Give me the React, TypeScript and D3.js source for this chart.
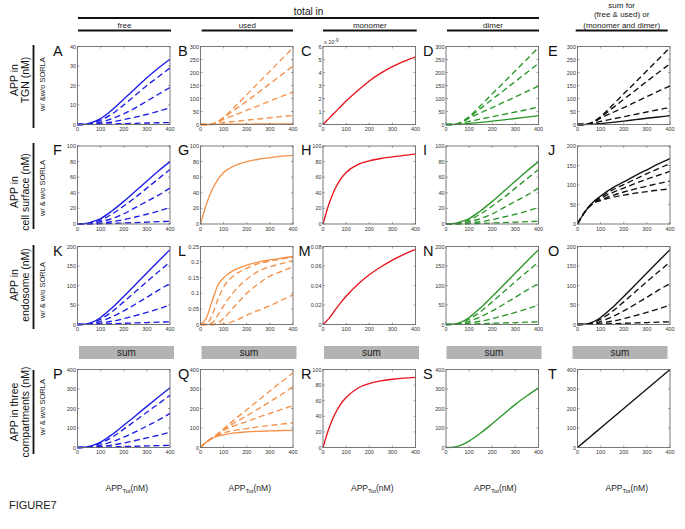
import React from 'react';
import * as d3 from 'd3';

// ---------- DATA ----------
const xGrid = [0, 25, 50, 75, 100, 150, 200, 250, 300, 350, 400];
const xTicks = [0, 100, 200, 300, 400];

// Row 1: TGN
const aSolid = [0, 0.1, 0.6, 1.6, 3, 7.5, 13, 18.5, 24, 29, 33.5];
const aD1 = [0, 0.05, 0.4, 1.1, 2.2, 5.5, 10, 15, 20, 24.5, 29];
const aD2 = [0, 0.03, 0.25, 0.6, 1.2, 3, 5.5, 8.5, 12, 15.5, 19];
const aD3 = [0, 0.02, 0.1, 0.3, 0.5, 1.3, 2.5, 3.8, 5.2, 6.8, 8.5];
const aD4 = [0, 0.01, 0.05, 0.1, 0.15, 0.3, 0.45, 0.6, 0.75, 0.9, 1.0];

const bSolid = [0, 0, 0, 0.5, 1, 1, 1.5, 2, 2, 2.5, 2.5];
const bD1 = [0, 0, 2, 12, 28, 70, 115, 160, 205, 250, 295];
const bD2 = [0, 0, 2, 11, 26, 58, 90, 123, 157, 191, 225];
const bD3 = [0, 0, 1.5, 9, 20, 37, 55, 72, 90, 108, 125];
const bD4 = [0, 0, 1, 4, 8, 12, 17, 21, 26, 30, 35];

const cSolid = [0, 0.45, 0.9, 1.35, 1.8, 2.6, 3.35, 3.95, 4.45, 4.85, 5.2]; // x 10^-9

const dSolid = [0, 0, 0.5, 1.5, 4, 8, 13, 18, 23, 28.5, 34];
const dD1 = [0, 0, 3, 14, 30, 73, 118, 162, 207, 251, 296];
const dD2 = [0, 0, 3, 13, 28, 62, 97, 131, 166, 200, 235];
const dD3 = [0, 0, 2.5, 11, 24, 45, 65, 86, 106, 127, 148];
const dD4 = [0, 0, 2, 6, 12, 21, 30, 39, 48, 57, 67];

const eSolid = [0, 0, 0.5, 1.5, 3.5, 8, 13, 18.5, 24, 29, 34];
const eD1 = [0, 0, 3, 14, 30, 73, 118, 162, 207, 251, 296];
const eD2 = [0, 0, 3, 13, 28, 62, 97, 131, 166, 200, 234];
const eD3 = [0, 0, 2.5, 11, 24, 45, 65, 86, 107, 128, 148];
const eD4 = [0, 0, 2, 6, 12, 21, 30, 39, 48, 57, 66];

// Row 2: cell surface
const fSolid = [0, 0.3, 1.5, 4, 7, 17, 29, 42, 55, 68, 80];
const fD1 = [0, 0.2, 1, 3, 5, 13, 23, 34, 46, 58, 70];
const fD2 = [0, 0.1, 0.6, 1.6, 3, 7, 13, 21, 29, 37, 46];
const fD3 = [0, 0.05, 0.3, 0.6, 1, 3, 5.5, 9, 12.5, 16.5, 21];
const fD4 = [0, 0.02, 0.1, 0.2, 0.4, 0.8, 1.3, 1.8, 2.4, 3, 3.5];

const gSolid = [0, 25, 44, 57, 66, 75, 80, 83, 85, 87, 88];
const hSolid = [0, 25, 44, 57, 66, 76, 81, 84, 86, 88, 89.5];

const jSolid = [0, 25, 45, 60, 72, 92, 108, 124, 139, 154, 168];
const jD1 = [0, 25, 45, 59, 69, 87, 101, 115, 129, 142, 155];
const jD2 = [0, 25, 45, 58, 66, 80, 92, 104, 115, 125, 135];
const jD3 = [0, 25, 44, 56, 62, 73, 82, 90, 97, 104, 110];
const jD4 = [0, 25, 44, 55, 60, 68, 74, 79, 83, 87, 90];

// Row 3: endosome
const kSolid = [0, 0.5, 3, 9, 18, 43, 72, 102, 132, 162, 192];
const kD1 = [0, 0.4, 2, 7, 14, 33, 58, 84, 110, 135, 160];
const kD2 = [0, 0.3, 1.5, 4, 8, 20, 35, 52, 70, 88, 105];
const kD3 = [0, 0.2, 0.8, 1.8, 3.5, 8.5, 15, 23, 31, 40, 50];
const kD4 = [0, 0.1, 0.3, 0.6, 1, 2, 3, 4, 5, 6, 7];

const lSolid = [0, 0.02, 0.075, 0.125, 0.15, 0.176, 0.19, 0.2, 0.207, 0.213, 0.218];
const lD1 = [0, 0, 0.03, 0.08, 0.12, 0.16, 0.18, 0.195, 0.203, 0.21, 0.215];
const lD2 = [0, 0, 0.005, 0.03, 0.06, 0.11, 0.145, 0.17, 0.185, 0.195, 0.205];
const lD3 = [0, 0, 0, 0.005, 0.02, 0.06, 0.1, 0.13, 0.155, 0.17, 0.185];
const lD4 = [0, 0, 0, 0, 0.002, 0.012, 0.03, 0.045, 0.06, 0.078, 0.095];

const mSolid = [0, 0.006, 0.014, 0.022, 0.029, 0.041, 0.051, 0.059, 0.066, 0.072, 0.077];

// Row 4: three compartments
const pSolid = [0, 1, 5, 15, 28, 67, 114, 162, 211, 259, 306];
const pD1 = [0, 0.6, 3.4, 11, 22, 53, 94, 137, 181, 224, 268];
const pD2 = [0, 0.4, 2.3, 6, 12, 30, 53, 80, 110, 140, 175];
const pD3 = [0, 0.3, 1.2, 2.7, 5, 13, 23, 36, 49, 63, 78];
const pD4 = [0, 0.1, 0.4, 0.9, 1.5, 3, 5, 6.5, 8, 9.5, 11];

const qSolid = [0, 28, 47, 58, 65, 75, 80, 83, 85, 87, 88];
const qD1 = [0, 28, 48, 72, 96, 146, 194, 242, 290, 337, 383];
const qD2 = [0, 28, 48, 70, 92, 128, 163, 198, 235, 272, 312];
const qD3 = [0, 28, 48, 68, 88, 113, 133, 155, 175, 195, 215];
const qD4 = [0, 28, 47, 62, 75, 88, 97, 106, 113, 120, 127];

const rSolid = [0, 24, 42, 55, 64, 76, 82, 85.5, 87.5, 89, 90];
const sSolid = [0, 1, 6, 17, 33, 74, 122, 172, 221, 265, 306];
const tSolid = [0, 25, 50, 75, 100, 150, 200, 250, 300, 350, 400];

// Tick sets
const ticks40 = [0, 10, 20, 30, 40];
const ticks300 = [0, 50, 100, 150, 200, 250, 300];
const ticks6 = [0, 1, 2, 3, 4, 5, 6];
const ticks100 = [0, 20, 40, 60, 80, 100];
const ticks200 = [0, 50, 100, 150, 200];
const ticks025 = [0, 0.05, 0.1, 0.15, 0.2, 0.25];
const ticks008 = [0, 0.02, 0.04, 0.06, 0.08];
const ticks400 = [0, 100, 200, 300, 400];

// Labels
const panelLetters = ['A', 'B', 'C', 'D', 'E', 'F', 'G', 'H', 'I', 'J', 'K', 'L', 'M', 'N', 'O', 'P', 'Q', 'R', 'S', 'T'];
const columnHeads = ['free', 'used', 'monomer', 'dimer'];
const lastHead = ['sum for', '(free & used) or', '(monomer and dimer)'];
const rowLine1 = ['APP in', 'APP in', 'APP in', 'APP in three'];
const rowLine2 = ['TGN (nM)', 'cell surface (nM)', 'endosome (nM)', 'compartments (nM)'];
const rowSub = ['w/ &w/o SORLA', 'w/ & w/o SORLA', 'w/ & w/o SORLA', 'w/ & w/o SORLA'];

// ---------- STYLE / LAYOUT ----------
const FONT = '"Liberation Sans", Arial, Helvetica, sans-serif';
const BLUE = '#1c1ce6';
const ORANGE = '#f5914a';
const RED = '#e8141c';
const GREEN = '#2a962a';
const BLACK = '#111111';

const colLeft = [77.5, 200.5, 323, 446, 577.5];
const rowTop = [46.5, 146, 246.5, 369.5];
const PW = 92.5;
const PH = 78;
const letterX = [53, 178, 301, 423, 548];

type Cfg = {
  yMax: number;
  yTicks: number[];
  color: string;
  solid: number[] | null;
  dashed: number[][];
  fmt?: (v: number) => string;
  exp?: boolean;
  ldx?: number;
};

const f2 = (v: number) => (v === 0 ? '0' : String(+v.toFixed(2)));

const panels: Cfg[] = [
  { yMax: 40, yTicks: ticks40, color: BLUE, solid: aSolid, dashed: [aD1, aD2, aD3, aD4] },
  { yMax: 300, yTicks: ticks300, color: ORANGE, solid: bSolid, dashed: [bD1, bD2, bD3, bD4] },
  { yMax: 6, yTicks: ticks6, color: RED, solid: cSolid, dashed: [], exp: true },
  { yMax: 300, yTicks: ticks300, color: GREEN, solid: dSolid, dashed: [dD1, dD2, dD3, dD4] },
  { yMax: 300, yTicks: ticks300, color: BLACK, solid: eSolid, dashed: [eD1, eD2, eD3, eD4] },

  { yMax: 100, yTicks: ticks100, color: BLUE, solid: fSolid, dashed: [fD1, fD2, fD3, fD4] },
  { yMax: 100, yTicks: ticks100, color: ORANGE, solid: gSolid, dashed: [] },
  { yMax: 100, yTicks: ticks100, color: RED, solid: hSolid, dashed: [] },
  { yMax: 100, yTicks: ticks100, color: GREEN, solid: fSolid, dashed: [fD1, fD2, fD3, fD4] },
  { yMax: 200, yTicks: ticks200, color: BLACK, solid: jSolid, dashed: [jD1, jD2, jD3, jD4] },

  { yMax: 200, yTicks: ticks200, color: BLUE, solid: kSolid, dashed: [kD1, kD2, kD3, kD4] },
  { yMax: 0.25, yTicks: ticks025, color: ORANGE, solid: lSolid, dashed: [lD1, lD2, lD3, lD4], fmt: f2 },
  { yMax: 0.08, yTicks: ticks008, color: RED, solid: mSolid, dashed: [], fmt: f2, ldx: -2.5 },
  { yMax: 200, yTicks: ticks200, color: GREEN, solid: kSolid, dashed: [kD1, kD2, kD3, kD4] },
  { yMax: 200, yTicks: ticks200, color: BLACK, solid: kSolid, dashed: [kD1, kD2, kD3, kD4] },

  { yMax: 400, yTicks: ticks400, color: BLUE, solid: pSolid, dashed: [pD1, pD2, pD3, pD4] },
  { yMax: 400, yTicks: ticks400, color: ORANGE, solid: qSolid, dashed: [qD1, qD2, qD3, qD4] },
  { yMax: 100, yTicks: ticks100, color: RED, solid: rSolid, dashed: [] },
  { yMax: 400, yTicks: ticks400, color: GREEN, solid: sSolid, dashed: [] },
  { yMax: 400, yTicks: ticks400, color: BLACK, solid: tSolid, dashed: [] },
];

function Panel({ cfg, left, top, letter, lx }: { cfg: Cfg; left: number; top: number; letter: string; lx: number }) {
  const x = d3.scaleLinear().domain([0, 400]).range([left, left + PW]);
  const y = d3.scaleLinear().domain([0, cfg.yMax]).range([top + PH, top]);
  const line = d3
    .line<number>()
    .x((_, i) => x(xGrid[i]))
    .y((d) => y(d))
    .curve(d3.curveMonotoneX);
  const fmt = cfg.fmt || ((v: number) => String(v));
  const axisColor = '#6a6a6a';
  const tl = 2;
  return (
    <g>
      <rect x={left} y={top} width={PW} height={PH} fill="white" stroke="none" />
      {cfg.dashed.map((s, i) => (
        <path key={i} d={line(s) || ''} fill="none" stroke={cfg.color} strokeWidth={1.35} strokeDasharray="6,3.5" />
      ))}
      {cfg.solid && <path d={line(cfg.solid) || ''} fill="none" stroke={cfg.color} strokeWidth={1.35} />}
      <rect x={left} y={top} width={PW} height={PH} fill="none" stroke={axisColor} strokeWidth={0.9} />
      {xTicks.map((t) => (
        <g key={'x' + t}>
          <line x1={x(t)} x2={x(t)} y1={top + PH} y2={top + PH - tl} stroke={axisColor} strokeWidth={0.6} />
          <line x1={x(t)} x2={x(t)} y1={top} y2={top + tl} stroke={axisColor} strokeWidth={0.6} />
          <text x={x(t)} y={top + PH + 6.5} fontSize={5.5} textAnchor="middle" fill="#333" fontFamily={FONT}>
            {t}
          </text>
        </g>
      ))}
      {cfg.yTicks.map((t) => (
        <g key={'y' + t}>
          <line x1={left} x2={left + tl} y1={y(t)} y2={y(t)} stroke={axisColor} strokeWidth={0.6} />
          <line x1={left + PW} x2={left + PW - tl} y1={y(t)} y2={y(t)} stroke={axisColor} strokeWidth={0.6} />
          <text x={left - 1.5} y={y(t) + 2} fontSize={5.5} textAnchor="end" fill="#333" fontFamily={FONT}>
            {fmt(t)}
          </text>
        </g>
      ))}
      {cfg.exp && (
        <text x={left + 1} y={top - 2.5} fontSize={5.5} fill="#333" fontFamily={FONT}>
          x 10<tspan dy={-2.5} fontSize={4.5}>-9</tspan>
        </text>
      )}
      <text x={lx + (cfg.ldx || 0)} y={top + 9} fontSize={14.5} fill="#111" fontFamily={FONT}>
        {letter}
      </text>
    </g>
  );
}

const rowTextCenter = [80, 192, 285, 412];
const rowLineY = [
  [45, 128],
  [143, 229],
  [245, 329],
  [370, 454],
];
const rowSubCenter = [84, 188, 290, 407];
const subLineX = [
  [78, 171],
  [201.7, 293],
  [323, 416.7],
  [447, 539],
  [575.7, 667.7],
];
const barLeft = [79, 201.5, 324, 446.5, 572.5];

export default function App() {
  return (
    <svg width={685} height={529} style={{ display: 'block', position: 'absolute', left: 0, top: 0 }}>
      <rect width={685} height={529} fill="white" />
      {/* top header */}
      <text x={308.5} y={15} fontSize={10} textAnchor="middle" fontFamily={FONT} fill="#111">
        total in
      </text>
      <line x1={78} x2={539} y1={18} y2={18} stroke="#111" strokeWidth={1.8} />
      {columnHeads.map((h, i) => (
        <text key={h} x={(subLineX[i][0] + subLineX[i][1]) / 2} y={27.5} fontSize={8} textAnchor="middle" fontFamily={FONT} fill="#222">
          {h}
        </text>
      ))}
      {lastHead.map((h, i) => (
        <text key={h} x={621.7} y={[7.5, 16.5, 27.5][i]} fontSize={8} textAnchor="middle" fontFamily={FONT} fill="#222">
          {h}
        </text>
      ))}
      {subLineX.map((s, i) => (
        <line key={i} x1={s[0]} x2={s[1]} y1={30.5} y2={30.5} stroke="#111" strokeWidth={1.8} />
      ))}

      {/* row labels */}
      {rowLine1.map((t, r) => (
        <g key={r}>
          <text transform={`translate(17.5,${rowTextCenter[r]}) rotate(-90)`} fontSize={10.5} textAnchor="middle" fontFamily={FONT} fill="#111">
            {t}
          </text>
          <text transform={`translate(29,${rowTextCenter[r]}) rotate(-90)`} fontSize={10.5} textAnchor="middle" fontFamily={FONT} fill="#111">
            {rowLine2[r]}
          </text>
          <line x1={33.5} x2={33.5} y1={rowLineY[r][0]} y2={rowLineY[r][1]} stroke="#111" strokeWidth={1.8} />
          <text transform={`translate(45,${rowSubCenter[r]}) rotate(-90)`} fontSize={7.5} textAnchor="middle" fontFamily={FONT} fill="#222">
            {rowSub[r]}
          </text>
        </g>
      ))}

      {/* panels */}
      {panels.map((cfg, i) => {
        const r = Math.floor(i / 5);
        const c = i % 5;
        return <Panel key={i} cfg={cfg} left={colLeft[c]} top={rowTop[r]} letter={panelLetters[i]} lx={letterX[c]} />;
      })}

      {/* sum bars */}
      {barLeft.map((bx, i) => (
        <g key={i}>
          <rect x={bx} y={346} width={95} height={13} fill="#b3b3b3" />
          <text x={bx + 47.5} y={356} fontSize={10} textAnchor="middle" fontFamily={FONT} fill="#222">
            sum
          </text>
        </g>
      ))}

      {/* x labels */}
      {colLeft.map((cx, i) => (
        <text key={i} x={cx + PW / 2 + 3} y={490.5} fontSize={8.5} textAnchor="middle" fontFamily={FONT} fill="#222">
          APP<tspan dy={2.5} fontSize={6}>Tot</tspan>
          <tspan dy={-2.5}>(nM)</tspan>
        </text>
      ))}
      <text x={9} y={509} fontSize={11} fontFamily={FONT} fill="#222">
        FIGURE7
      </text>
    </svg>
  );
}
